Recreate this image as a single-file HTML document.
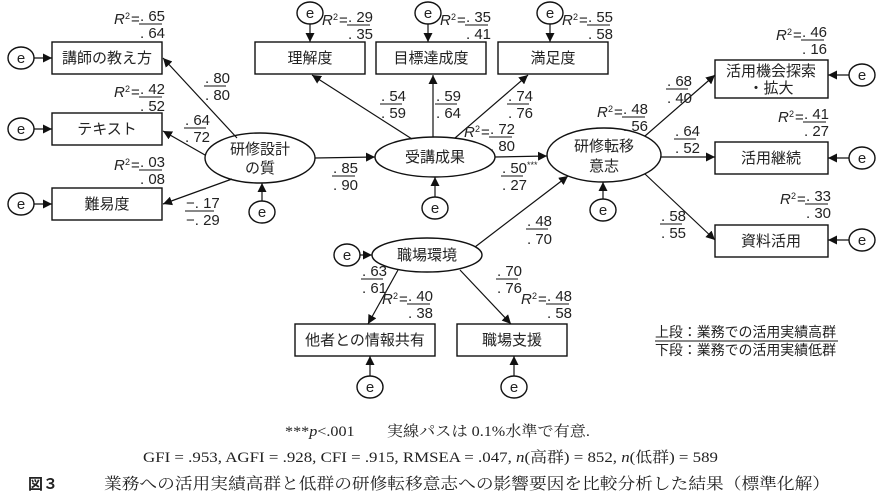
<!DOCTYPE html>
<html><head><meta charset="utf-8"><style>
html,body{margin:0;padding:0;background:#fff;}
svg{display:block;}
text{font-family:"Liberation Sans","Noto Sans CJK JP",sans-serif;fill:#222;}
.n{font-size:15px;}
.j{font-size:15px;}
.s{font-family:"Liberation Serif","Noto Serif CJK SC",serif;font-size:14px;}
</style></head><body>
<svg width="885" height="496" viewBox="0 0 885 496" xmlns="http://www.w3.org/2000/svg">
<defs><marker id="a" viewBox="0 0 10 10" refX="10" refY="5" markerWidth="9" markerHeight="9" markerUnits="userSpaceOnUse" orient="auto"><path d="M0,0 L10,5 L0,10z" fill="#111"/></marker></defs>
<g stroke="#111" stroke-width="1.4" fill="#fff">
<rect x="52" y="42" width="110" height="32"/><rect x="52" y="113" width="110" height="32"/><rect x="52" y="188" width="110" height="32"/>
<rect x="255" y="42" width="110" height="32"/><rect x="376" y="42" width="110" height="32"/><rect x="498" y="42" width="110" height="32"/>
<rect x="715" y="60" width="113" height="38"/><rect x="715" y="142" width="113" height="32"/><rect x="715" y="225" width="113" height="32"/>
<rect x="295" y="324" width="140" height="32"/><rect x="457" y="324" width="110" height="32"/>
<ellipse cx="260" cy="158" rx="55" ry="25"/><ellipse cx="435" cy="157" rx="60" ry="20"/><ellipse cx="604" cy="155" rx="57" ry="27"/><ellipse cx="427" cy="255" rx="55" ry="17"/>
<ellipse cx="21" cy="58" rx="13" ry="11"/><ellipse cx="21" cy="129" rx="13" ry="11"/><ellipse cx="21" cy="204" rx="13" ry="11"/>
<ellipse cx="262" cy="212" rx="13" ry="11"/><ellipse cx="435" cy="208" rx="13" ry="11"/><ellipse cx="603" cy="210" rx="13" ry="11"/>
<ellipse cx="310" cy="13" rx="13" ry="11"/><ellipse cx="428" cy="13" rx="13" ry="11"/><ellipse cx="550" cy="13" rx="13" ry="11"/>
<ellipse cx="862" cy="75" rx="13" ry="11"/><ellipse cx="862" cy="158" rx="13" ry="11"/><ellipse cx="862" cy="240" rx="13" ry="11"/>
<ellipse cx="347" cy="255" rx="13" ry="11"/><ellipse cx="370" cy="387" rx="13" ry="11"/><ellipse cx="514" cy="387" rx="13" ry="11"/>
</g>
<g stroke="#111" stroke-width="1.2" marker-end="url(#a)" fill="none">
<line x1="34" y1="58" x2="52" y2="58"/><line x1="34" y1="129" x2="52" y2="129"/><line x1="34" y1="204" x2="52" y2="204"/>
<line x1="262" y1="201" x2="262" y2="183"/><line x1="435" y1="197" x2="435" y2="177"/><line x1="603" y1="199" x2="603" y2="182"/>
<line x1="310" y1="24" x2="310" y2="42"/><line x1="428" y1="24" x2="428" y2="42"/><line x1="550" y1="24" x2="550" y2="42"/>
<line x1="849" y1="75" x2="828" y2="75"/><line x1="849" y1="158" x2="828" y2="158"/><line x1="849" y1="240" x2="828" y2="240"/>
<line x1="360" y1="255" x2="372" y2="255"/><line x1="370" y1="376" x2="370" y2="356"/><line x1="514" y1="376" x2="514" y2="356"/>
<line x1="237" y1="138" x2="163" y2="58"/><line x1="205" y1="155" x2="163" y2="131"/><line x1="232" y1="179" x2="163" y2="204"/>
<line x1="315" y1="158" x2="375" y2="157"/>
<line x1="412" y1="139" x2="312" y2="75"/><line x1="433" y1="137" x2="433" y2="75"/><line x1="455" y1="138" x2="528" y2="75"/>
<line x1="495" y1="157" x2="547" y2="156"/>
<line x1="645" y1="136" x2="715" y2="75"/><line x1="661" y1="157" x2="715" y2="157"/><line x1="645" y1="174" x2="715" y2="240"/>
<line x1="475" y1="247" x2="568" y2="176"/>
<line x1="398" y1="270" x2="368" y2="324"/><line x1="460" y1="270" x2="511" y2="324"/>
</g>
<g class="j" text-anchor="middle">
<text x="107" y="63">講師の教え方</text><text x="107" y="134">テキスト</text><text x="107" y="209">難易度</text>
<text x="310" y="63">理解度</text><text x="431" y="63">目標達成度</text><text x="553" y="63">満足度</text>
<text x="771" y="76">活用機会探索</text><text x="771" y="93">・拡大</text><text x="771" y="163">活用継続</text><text x="771" y="246">資料活用</text>
<text x="365" y="345">他者との情報共有</text><text x="512" y="345">職場支援</text>
<text x="260" y="154">研修設計</text><text x="260" y="173">の質</text><text x="435" y="162">受講成果</text>
<text x="604" y="151">研修転移</text><text x="604" y="171">意志</text><text x="427" y="260">職場環境</text>
</g>
<g class="n" text-anchor="middle">
<text x="21" y="63">e</text><text x="21" y="134">e</text><text x="21" y="209">e</text><text x="262" y="217">e</text><text x="435" y="213">e</text><text x="603" y="215">e</text>
<text x="310" y="18">e</text><text x="428" y="18">e</text><text x="550" y="18">e</text><text x="862" y="80">e</text><text x="862" y="163">e</text><text x="862" y="245">e</text>
<text x="347" y="260">e</text><text x="370" y="392">e</text><text x="514" y="392">e</text>
</g>
<g class="n" font-size="14">
<text x="205" y="83">. 80</text><text x="205" y="100">. 80</text><line x1="204" y1="86" x2="226" y2="86" stroke="#111"/>
<text x="185" y="125">. 64</text><text x="185" y="142">. 72</text><line x1="184" y1="128" x2="206" y2="128" stroke="#111"/>
<text x="186" y="208">−. 17</text><text x="186" y="225">−. 29</text><line x1="185" y1="211" x2="214" y2="211" stroke="#111"/>
<text x="333" y="173">. 85</text><text x="333" y="190">. 90</text><line x1="332" y1="176" x2="355" y2="176" stroke="#111"/>
<text x="381" y="101">. 54</text><text x="381" y="118">. 59</text><line x1="380" y1="104" x2="402" y2="104" stroke="#111"/>
<text x="436" y="101">. 59</text><text x="436" y="118">. 64</text><line x1="435" y1="104" x2="457" y2="104" stroke="#111"/>
<text x="508" y="101">. 74</text><text x="508" y="118">. 76</text><line x1="507" y1="104" x2="529" y2="104" stroke="#111"/>
<text x="502" y="173">. 50<tspan font-size="9" dy="-5">***</tspan></text><text x="502" y="190">. 27</text><line x1="501" y1="176" x2="523" y2="176" stroke="#111"/>
<text x="667" y="86">. 68</text><text x="667" y="103">. 40</text><line x1="666" y1="89" x2="688" y2="89" stroke="#111"/>
<text x="675" y="136">. 64</text><text x="675" y="153">. 52</text><line x1="674" y1="139" x2="696" y2="139" stroke="#111"/>
<text x="661" y="221">. 58</text><text x="661" y="238">. 55</text><line x1="660" y1="224" x2="682" y2="224" stroke="#111"/>
<text x="527" y="226">. 48</text><text x="527" y="244">. 70</text><line x1="526" y1="229" x2="548" y2="229" stroke="#111"/>
<text x="362" y="276">. 63</text><text x="362" y="293">. 61</text><line x1="361" y1="279" x2="383" y2="279" stroke="#111"/>
<text x="497" y="276">. 70</text><text x="497" y="293">. 76</text><line x1="496" y1="279" x2="518" y2="279" stroke="#111"/>
</g>
<g class="n" font-size="14">
<g transform="translate(114,24)"><text font-style="italic">R</text><text x="11" y="-5" font-size="9">2</text><text x="17">=</text><text x="26" y="-3">. 65</text><text x="26" y="14">. 64</text><line x1="25" y1="0" x2="48" y2="0" stroke="#111"/></g>
<g transform="translate(114,97)"><text font-style="italic">R</text><text x="11" y="-5" font-size="9">2</text><text x="17">=</text><text x="26" y="-3">. 42</text><text x="26" y="14">. 52</text><line x1="25" y1="0" x2="48" y2="0" stroke="#111"/></g>
<g transform="translate(114,170)"><text font-style="italic">R</text><text x="11" y="-5" font-size="9">2</text><text x="17">=</text><text x="26" y="-3">. 03</text><text x="26" y="14">. 08</text><line x1="25" y1="0" x2="48" y2="0" stroke="#111"/></g>
<g transform="translate(322,25)"><text font-style="italic">R</text><text x="11" y="-5" font-size="9">2</text><text x="17">=</text><text x="26" y="-3">. 29</text><text x="26" y="14">. 35</text><line x1="25" y1="0" x2="48" y2="0" stroke="#111"/></g>
<g transform="translate(440,25)"><text font-style="italic">R</text><text x="11" y="-5" font-size="9">2</text><text x="17">=</text><text x="26" y="-3">. 35</text><text x="26" y="14">. 41</text><line x1="25" y1="0" x2="48" y2="0" stroke="#111"/></g>
<g transform="translate(562,25)"><text font-style="italic">R</text><text x="11" y="-5" font-size="9">2</text><text x="17">=</text><text x="26" y="-3">. 55</text><text x="26" y="14">. 58</text><line x1="25" y1="0" x2="48" y2="0" stroke="#111"/></g>
<g transform="translate(464,137)"><text font-style="italic">R</text><text x="11" y="-5" font-size="9">2</text><text x="17">=</text><text x="26" y="-3">. 72</text><text x="26" y="14">. 80</text><line x1="25" y1="0" x2="48" y2="0" stroke="#111"/></g>
<g transform="translate(597,117)"><text font-style="italic">R</text><text x="11" y="-5" font-size="9">2</text><text x="17">=</text><text x="26" y="-3">. 48</text><text x="26" y="14">. 56</text><line x1="25" y1="0" x2="48" y2="0" stroke="#111"/></g>
<g transform="translate(776,40)"><text font-style="italic">R</text><text x="11" y="-5" font-size="9">2</text><text x="17">=</text><text x="26" y="-3">. 46</text><text x="26" y="14">. 16</text><line x1="25" y1="0" x2="48" y2="0" stroke="#111"/></g>
<g transform="translate(778,122)"><text font-style="italic">R</text><text x="11" y="-5" font-size="9">2</text><text x="17">=</text><text x="26" y="-3">. 41</text><text x="26" y="14">. 27</text><line x1="25" y1="0" x2="48" y2="0" stroke="#111"/></g>
<g transform="translate(780,204)"><text font-style="italic">R</text><text x="11" y="-5" font-size="9">2</text><text x="17">=</text><text x="26" y="-3">. 33</text><text x="26" y="14">. 30</text><line x1="25" y1="0" x2="48" y2="0" stroke="#111"/></g>
<g transform="translate(382,304)"><text font-style="italic">R</text><text x="11" y="-5" font-size="9">2</text><text x="17">=</text><text x="26" y="-3">. 40</text><text x="26" y="14">. 38</text><line x1="25" y1="0" x2="48" y2="0" stroke="#111"/></g>
<g transform="translate(521,304)"><text font-style="italic">R</text><text x="11" y="-5" font-size="9">2</text><text x="17">=</text><text x="26" y="-3">. 48</text><text x="26" y="14">. 58</text><line x1="25" y1="0" x2="48" y2="0" stroke="#111"/></g>
</g>
<text x="655" y="337" style="font-size:14px" textLength="181" lengthAdjust="spacingAndGlyphs">上段：業務での活用実績高群</text>
<text x="655" y="355" style="font-size:14px" textLength="181" lengthAdjust="spacingAndGlyphs">下段：業務での活用実績低群</text>
<line x1="655" y1="341" x2="838" y2="341" stroke="#111" stroke-width="1"/>
<text class="s" x="285" y="436" style="font-size:15px" textLength="305" lengthAdjust="spacingAndGlyphs">***<tspan font-style="italic">p</tspan>&lt;.001　　実線パスは 0.1%水準で有意.</text>
<text class="s" x="143" y="462" style="font-size:15px" textLength="575" lengthAdjust="spacingAndGlyphs">GFI = .953, AGFI = .928, CFI = .915, RMSEA = .047, <tspan font-style="italic">n</tspan>(高群) = 852, <tspan font-style="italic">n</tspan>(低群) = 589</text>
<text x="28" y="489" style="font-size:15px;font-weight:bold">図３</text>
<text class="s" x="104" y="489" style="font-size:16px" textLength="726" lengthAdjust="spacingAndGlyphs">業務への活用実績高群と低群の研修転移意志への影響要因を比較分析した結果（標準化解）</text>
</svg>
</body></html>
